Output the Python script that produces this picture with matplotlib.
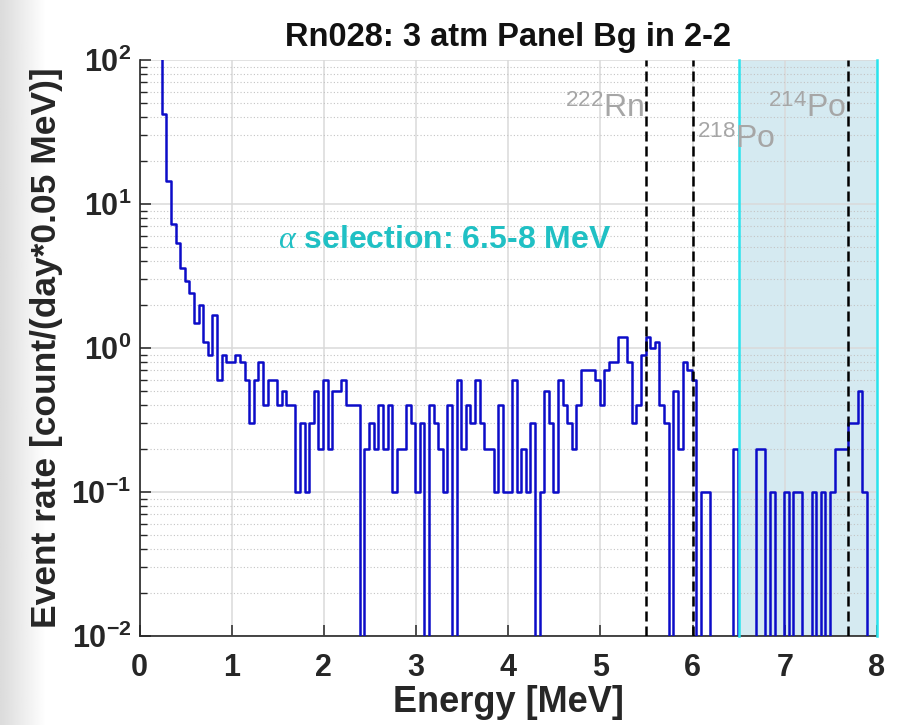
import numpy as np
import matplotlib
matplotlib.use("Agg")
import matplotlib.pyplot as plt
from matplotlib.ticker import FixedLocator, FuncFormatter, NullFormatter

plt.rcParams['font.family'] = ['Liberation Sans', 'DejaVu Sans']
plt.rcParams['mathtext.fontset'] = 'custom'
plt.rcParams['mathtext.rm'] = 'Liberation Sans'
plt.rcParams['mathtext.bf'] = 'Liberation Sans:bold'
plt.rcParams['mathtext.it'] = 'Liberation Serif:italic'

# Event rate pro 0.05 MeV Bin, erstes Bin beginnt bei 0 MeV
BIN_BREITE = 0.05
BIN_START = -0.01
rate = [
    300, 300, 300, 250, 150, 42, 14.5, 7.3, 5.4, 3.6,      # 0.00 - 0.45
    2.9, 2.4, 1.5, 2.0, 1.1, 0.9, 1.7, 0.6, 0.9, 0.8,      # 0.50 - 0.95
    0.8, 0.9, 0.8, 0.6, 0.3, 0.6, 0.8, 0.4, 0.6, 0.6,      # 1.00 - 1.45
    0.4, 0.5, 0.4, 0.4, 0.1, 0.3, 0.1, 0.3, 0.5, 0.2,      # 1.50 - 1.95
    0.6, 0.2, 0.5, 0.5, 0.6, 0.4, 0.4, 0.4, 0, 0.2,        # 2.00 - 2.45
    0.3, 0.2, 0.4, 0.2, 0.4, 0.1, 0.2, 0.2, 0.4, 0.3,      # 2.50 - 2.95
    0.1, 0.3, 0, 0.4, 0.3, 0.2, 0.1, 0.4, 0, 0.6,          # 3.00 - 3.45
    0.2, 0.4, 0.3, 0.6, 0.3, 0.2, 0.2, 0.1, 0.4, 0.1,      # 3.50 - 3.95
    0.1, 0.6, 0.1, 0.2, 0.1, 0.3, 0, 0.1, 0.5, 0.3,        # 4.00 - 4.45
    0.1, 0.6, 0.4, 0.3, 0.2, 0.4, 0.7, 0.7, 0.7, 0.6,      # 4.50 - 4.95
    0.4, 0.7, 0.8, 0.8, 1.2, 1.2, 0.8, 0.3, 0.4, 0.9,      # 5.00 - 5.45
    1.2, 1.0, 1.1, 0.4, 0.3, 0, 0.5, 0.2, 0.8, 0.7,        # 5.50 - 5.95
    0.6, 0, 0.1, 0.1, 0, 0, 0, 0, 0, 0.2,                  # 6.00 - 6.45
    0, 0, 0, 0, 0.2, 0.2, 0, 0.1, 0, 0,                    # 6.50 - 6.95
    0.1, 0, 0.1, 0.1, 0, 0, 0.1, 0, 0.1, 0,                # 7.00 - 7.45
    0.1, 0.2, 0.2, 0.2, 0.3, 0.3, 0.5, 0.1, 0, 0,          # 7.50 - 7.95
]

# Alpha-Linien der Rn-Kette
linien_energie = [5.49, 6.00, 7.69]
linien_name = [r'$^{222}$Rn', r'$^{218}$Po', r'$^{214}$Po']
linien_text_y = [40, 24.5, 40]
linien_text_ha = ['right', 'left', 'right']

selektion = [6.5, 8.0]
selektion_text = r'$\alpha$ selection: 6.5-8 MeV'

fig = plt.figure(figsize=(8.97, 7.25), dpi=100)

# grauer Schatten am linken Rand (Screenshot)
bg = fig.add_axes([0, 0, 1, 1], zorder=-10)
verlauf = np.linspace(0, 1, 897)
verlauf = 0.86 + 0.14 * np.clip(verlauf * 897 / 45.0, 0, 1)
bg.imshow(np.tile(verlauf, (10, 1)), cmap='gray', vmin=0, vmax=1, aspect='auto',
          extent=[0, 1, 0, 1])
bg.set_xlim(0, 1)
bg.set_ylim(0, 1)
bg.axis('off')

ax = fig.add_axes([0.1556, 0.1228, 0.8221, 0.7944])
ax.set_facecolor('white')

ax.axvspan(selektion[0], selektion[1], color='#d5eaf1', lw=0, zorder=0.2)

kanten = BIN_START + np.arange(len(rate) + 1) * BIN_BREITE
y = np.append(rate, rate[-1])
ax.step(kanten, y, where='post', color='#0c0cc8', lw=1.8, zorder=3)

for e in linien_energie:
    ax.axvline(e, color='black', lw=1.8, ls=(0, (4, 2)), zorder=4)
for e in selektion:
    ax.axvline(e, color='#28e4ee', lw=1.8, zorder=4, clip_on=False)

for e, name, ty, ha in zip(linien_energie, linien_name, linien_text_y, linien_text_ha):
    dx = -0.02 if ha == 'right' else 0.05
    ax.text(e + dx, ty, name, ha=ha, va='baseline', fontsize=23,
            color='#a6a6a6', zorder=5)

ax.text(1.5, 5.6, selektion_text, ha='left', va='center', fontsize=23,
        fontweight='bold', color='#20c0c4', zorder=5)

ax.set_yscale('log')
ax.set_xlim(0, 8)
ax.set_ylim(1e-2, 1e2)

ax.xaxis.set_major_locator(FixedLocator(np.arange(0, 9)))
ax.yaxis.set_major_locator(FixedLocator([1e-2, 1e-1, 1, 10, 100]))
minor = [m * 10.0 ** d for d in range(-2, 2) for m in range(2, 10)]
ax.yaxis.set_minor_locator(FixedLocator(minor))
ax.yaxis.set_minor_formatter(NullFormatter())
ax.yaxis.set_major_formatter(FuncFormatter(
    lambda v, pos: r'$\mathbf{10^{%d}}$' % int(round(np.log10(v)))))

ax.set_axisbelow(True)
ax.grid(which='major', color='#dadada', lw=1.1, ls='-')
ax.yaxis.grid(which='minor', color='#c4c4c4', lw=0.8, ls=(0, (1, 2)))

for s in ['top', 'right']:
    ax.spines[s].set_visible(False)
for s in ['left', 'bottom']:
    ax.spines[s].set_color('#262626')
    ax.spines[s].set_linewidth(1.2)

ax.tick_params(which='both', direction='in', colors='#262626')
ax.tick_params(which='major', length=8, width=1.1, labelsize=22)
ax.tick_params(axis='x', which='major', pad=12)
ax.tick_params(axis='y', which='major', pad=6)
ax.tick_params(which='minor', length=5, width=1.0)
for lab in ax.get_xticklabels():
    lab.set_fontweight('bold')

ax.set_title('Rn028: 3 atm Panel Bg in 2-2', fontsize=23.5, fontweight='bold',
             color='#111111', pad=10)
ax.set_xlabel('Energy [MeV]', fontsize=26, fontweight='bold', color='#262626',
              labelpad=2)
ax.set_ylabel('Event rate [count/(day*0.05 MeV)]', fontsize=25.5, fontweight='bold',
              color='#262626', labelpad=6)

fig.savefig('out.png', dpi=100)
